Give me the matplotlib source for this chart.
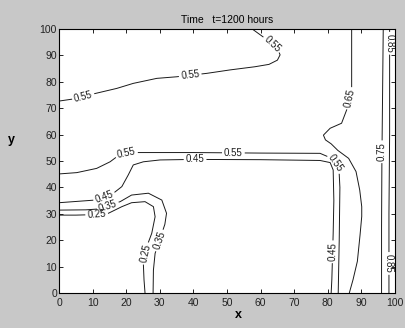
import numpy as np
import matplotlib
matplotlib.use('Agg')
import matplotlib.pyplot as plt
from matplotlib.contour import ContourSet

plt.rcParams['font.family'] = ['Liberation Sans', 'DejaVu Sans']

levels = [0.25, 0.35, 0.45, 0.55, 0.65, 0.75, 0.85]

# iso-lines of the field at t=1200 hours, one array pair per line
c25_x = [0, 5, 11, 14.7, 18.7, 21.6, 25.6, 28.1, 28.6, 27.6, 26.1, 25.1, 25.3, 25.6]
c25_y = [29.5, 29.5, 29.7, 30.2, 32.7, 34.2, 34.6, 32.7, 28.9, 22.6, 17.5, 11.2, 5, 0]

c35_x = [0, 8, 11.5, 15, 18.2, 21.6, 26.6, 30.6, 32.0, 31.5, 30.6, 28.6, 28.1, 28.0]
c35_y = [31.4, 31.5, 31.8, 33.2, 34.6, 37.1, 37.8, 35.2, 30.2, 26, 22.6, 15, 8.7, 0]

c45_x = [0, 10.7, 16.2, 18.7, 20.6, 22.1, 25.1, 30.1, 40, 60, 77.7, 80.7, 81.6, 81.8, 81.6, 81.2, 81.0]
c45_y = [34.2, 35.2, 37.8, 40.3, 44.7, 48.5, 49.7, 50.4, 50.6, 50.5, 50.2, 49.4, 46.6, 35, 22.6, 5, 0]

c55a_x = [0, 5.3, 11.2, 15.2, 17.2, 20, 22.6, 40, 60, 77.7, 81.2, 83.3, 83.6, 83.4, 83.1]
c55a_y = [45.1, 45.6, 47.2, 49.7, 51.6, 52.8, 53.2, 53.2, 53.0, 52.9, 51.0, 47.5, 40, 20, 0]

c55b_x = [0, 4.3, 10.2, 17.2, 22.1, 29.1, 35, 44, 50.9, 58.3, 62.5, 65.0, 65.8, 64.8, 61.3, 57.5]
c55b_y = [72.7, 73.5, 75.4, 77.5, 79.4, 81.3, 81.9, 83.2, 84.5, 85.7, 86.6, 88.2, 90.2, 93.3, 96.5, 100]

c65_x = [87.1, 87.1, 86.6, 85.6, 84.1, 80.7, 78.7, 79.3, 81, 83, 86.2, 88.4, 89.5, 90.1, 90.1, 89.6, 88.8, 87.5, 86.4]
c65_y = [100, 77.5, 73, 69.3, 64.3, 62.4, 59.8, 58, 56.5, 54, 51, 46, 39, 32.7, 29, 22, 12, 5, 0]

c75_x = [96.5, 96.3, 96.1, 96.0, 96.0]
c75_y = [100, 75, 50, 25, 0]

c85_x = [98.4, 98.4, 98.2, 98.2]
c85_y = [100, 60, 30, 0]

# where the level labels sit
label_pos = [(11.2, 29.8), (25.7, 15),
             (14.5, 33.2), (30.1, 19.8),
             (13.4, 36.5), (40.5, 50.6), (81.6, 15.6),
             (20.1, 52.7), (51.9, 53.2), (82.3, 49),
             (7.2, 74.4), (39, 83), (63.8, 94.8),
             (86.6, 73.7),
             (96.3, 53.5),
             (98.4, 94.6), (98.2, 11.2)]


def seg(xs, ys):
    return np.column_stack([xs, ys])


allsegs = [
    [seg(c25_x, c25_y)],
    [seg(c35_x, c35_y)],
    [seg(c45_x, c45_y)],
    [seg(c55a_x, c55a_y), seg(c55b_x, c55b_y)],
    [seg(c65_x, c65_y)],
    [seg(c75_x, c75_y)],
    [seg(c85_x, c85_y)],
]

fig = plt.figure(figsize=(4.05, 3.28), dpi=100, facecolor='#c8c8c8')
ax = fig.add_axes([0.1457, 0.1067, 0.8296, 0.8049])
ax.set_facecolor('white')

cs = ContourSet(ax, levels, allsegs, colors='#1a1a1a', linewidths=0.7)
ax.set_xlim(0, 100)
ax.set_ylim(0, 100)
ax.clabel(cs, fmt='%.2f', manual=label_pos, inline=True, inline_spacing=2, fontsize=7)

ax.set_xticks(range(0, 101, 10))
ax.set_yticks(range(0, 101, 10))
ax.tick_params(direction='in', top=True, right=True, length=3, width=0.6,
               labelsize=7.5, labelcolor='#222222')
ax.tick_params(axis='x', pad=3.5)
ax.tick_params(axis='y', pad=1.5)
for s in ax.spines.values():
    s.set_linewidth(0.8)

ax.set_title('Time   t=1200 hours', fontsize=7.5, pad=4)
ax.set_xlabel('x', fontsize=9, fontweight='bold')
ax.set_ylabel('y', fontsize=9, fontweight='bold', rotation=0)
ax.xaxis.set_label_coords(0.533, -0.06)
ax.yaxis.set_label_coords(-0.141, 0.558)

fig.savefig('out.png', dpi=100, facecolor=fig.get_facecolor())
